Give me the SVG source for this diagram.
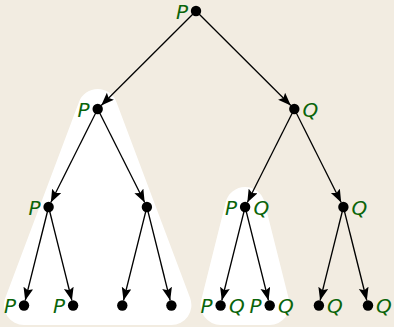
<svg xmlns="http://www.w3.org/2000/svg" width="394" height="327" viewBox="0 0 394 327">
<style>
.bg{fill:#f2ece1}
.hull{fill:#ffffff}
.dot{fill:#000000}
.edge{stroke:#000000;stroke-width:1.3;fill:none;marker-end:url(#arr)}
.lbl{font-family:"DejaVu Sans",sans-serif;font-style:italic;font-size:20px;fill:#0a640a}
.l{text-anchor:end}
</style>
<defs>
<marker id="arr" markerUnits="userSpaceOnUse" markerWidth="14" markerHeight="11" refX="13" refY="5" orient="auto">
<path d="M0,0 L13,5 L0,10 L2.5,5 Z" fill="#000000"/>
</marker>
</defs>
<rect class="bg" x="0" y="0" width="394" height="327"/>
<g id="hulls">
<path class="hull" d="M78.98,101.96 A20,20 0 0 1 116.42,101.96 L190.12,297.96 A20,20 0 0 1 171.4,325 L24,325 A20,20 0 0 1 5.28,297.96 Z"/>
<path class="hull" d="M225.7,202.15 A20,20 0 0 1 264.5,202.13 L289.1,300.13 A20,20 0 0 1 269.7,325 L220.6,325 A20,20 0 0 1 201.2,300.15 Z"/>
</g>
<g id="connectors">
<line class="edge" x1="196" y1="11" x2="101.2" y2="105.5"/>
<line class="edge" x1="196" y1="11" x2="290.8" y2="105.5"/>
<line class="edge" x1="97.7" y1="109" x2="50.8" y2="202.5"/>
<line class="edge" x1="97.7" y1="109" x2="144.7" y2="202.5"/>
<line class="edge" x1="294.3" y1="109" x2="247.3" y2="202.5"/>
<line class="edge" x1="294.3" y1="109" x2="341.2" y2="202.5"/>
<line class="edge" x1="48.6" y1="207" x2="25.2" y2="300.5"/>
<line class="edge" x1="48.6" y1="207" x2="71.9" y2="300.5"/>
<line class="edge" x1="146.9" y1="207" x2="123.5" y2="300.5"/>
<line class="edge" x1="146.9" y1="207" x2="170.2" y2="300.5"/>
<line class="edge" x1="245.1" y1="207" x2="221.8" y2="300.5"/>
<line class="edge" x1="245.1" y1="207" x2="268.5" y2="300.5"/>
<line class="edge" x1="343.4" y1="207" x2="320.1" y2="300.5"/>
<line class="edge" x1="343.4" y1="207" x2="366.8" y2="300.5"/>
</g>
<g id="n0"><circle class="dot" cx="196" cy="11" r="5.2"/><text class="lbl l" x="188" y="18.5">P</text></g>
<g id="n1"><circle class="dot" cx="97.7" cy="109" r="5.2"/><text class="lbl l" x="89.5" y="116.5">P</text></g>
<g id="n2"><circle class="dot" cx="294.3" cy="109" r="5.2"/><text class="lbl" x="302.5" y="116.5">Q</text></g>
<g id="n3"><circle class="dot" cx="48.6" cy="207" r="5.2"/><text class="lbl l" x="40.5" y="214.5">P</text></g>
<g id="n4"><circle class="dot" cx="146.9" cy="207" r="5.2"/></g>
<g id="n5"><circle class="dot" cx="245.1" cy="207" r="5.2"/><text class="lbl l" x="237" y="214.5">P</text><text class="lbl" x="253.5" y="214.5">Q</text></g>
<g id="n6"><circle class="dot" cx="343.4" cy="207" r="5.2"/><text class="lbl" x="351.5" y="214.5">Q</text></g>
<g id="n7"><circle class="dot" cx="24" cy="305.5" r="5.2"/><text class="lbl l" x="16" y="313">P</text></g>
<g id="n8"><circle class="dot" cx="73.1" cy="305.5" r="5.2"/><text class="lbl l" x="65" y="313">P</text></g>
<g id="n9"><circle class="dot" cx="122.3" cy="305.5" r="5.2"/></g>
<g id="n10"><circle class="dot" cx="171.4" cy="305.5" r="5.2"/></g>
<g id="n11"><circle class="dot" cx="220.6" cy="305.5" r="5.2"/><text class="lbl l" x="212.5" y="313">P</text><text class="lbl" x="229" y="313">Q</text></g>
<g id="n12"><circle class="dot" cx="269.7" cy="305.5" r="5.2"/><text class="lbl l" x="261.5" y="313">P</text><text class="lbl" x="278" y="313">Q</text></g>
<g id="n13"><circle class="dot" cx="318.9" cy="305.5" r="5.2"/><text class="lbl" x="327" y="313">Q</text></g>
<g id="n14"><circle class="dot" cx="368" cy="305.5" r="5.2"/><text class="lbl" x="376" y="313">Q</text></g>
</svg>
